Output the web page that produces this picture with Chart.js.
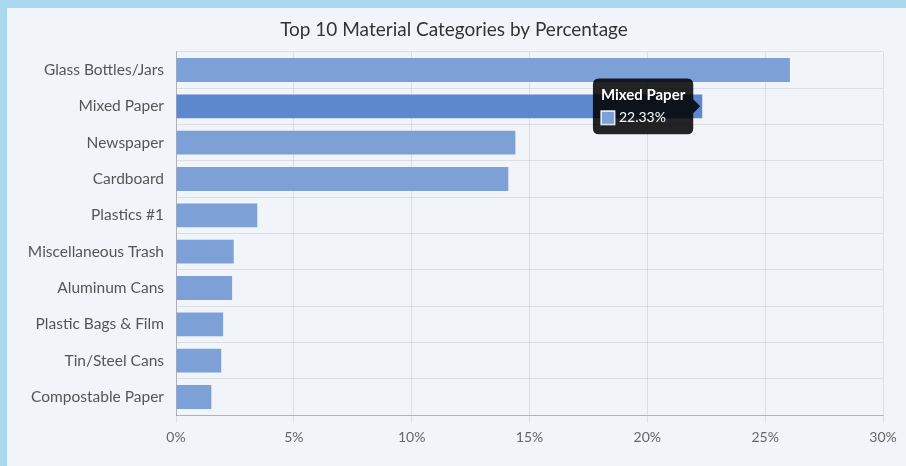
<!DOCTYPE html>
<html>
<head>
<meta charset="utf-8">
<script src="https://cdn.jsdelivr.net/npm/chart.js@4/dist/chart.umd.min.js"></script>
<style>
  html, body { margin: 0; padding: 0; width: 906px; height: 466px; overflow: hidden; background: #a9d7ee; }
  #panel { position: absolute; left: 7px; top: 8px; width: 899px; height: 458px; background: #f1f5fa; }
  #wrap { position: absolute; left: 0; top: 0; width: 906px; height: 466px; }
</style>
</head>
<body>
<div id="panel"></div>
<div id="wrap"><canvas id="chart" width="906" height="466"></canvas></div>
<script>
// Material categories and their share of the total (%)
const categories = [
  'Glass Bottles/Jars',
  'Mixed Paper',
  'Newspaper',
  'Cardboard',
  'Plastics #1',
  'Miscellaneous Trash',
  'Aluminum Cans',
  'Plastic Bags & Film',
  'Tin/Steel Cans',
  'Compostable Paper'
];
const percentages = [26.05, 22.33, 14.4, 14.1, 3.45, 2.45, 2.38, 2.0, 1.92, 1.5];
const xTicks = [0, 5, 10, 15, 20, 25, 30];

const FONT = 'Lato, "Open Sans", sans-serif';

const chart = new Chart(document.getElementById('chart'), {
  type: 'bar',
  data: {
    labels: categories,
    datasets: [{
      label: 'Percentage',
      data: percentages,
      backgroundColor: '#7da0d7',
      hoverBackgroundColor: '#5e88cd',
      borderWidth: 0,
      barPercentage: 0.82,
      categoryPercentage: 0.8
    }]
  },
  options: {
    indexAxis: 'y',
    responsive: false,
    animation: false,
    layout: { padding: { left: 25, right: 23, top: 18, bottom: 14 } },
    plugins: {
      legend: { display: false },
      title: {
        display: true,
        text: 'Top 10 Material Categories by Percentage',
        color: '#333',
        font: { family: FONT, size: 19, weight: 'normal' },
        padding: { top: 0, bottom: 11 }
      },
      tooltip: {
        backgroundColor: 'rgba(0,0,0,0.86)',
        titleFont: { family: FONT, size: 15, weight: 'bold' },
        bodyFont: { family: FONT, size: 14 },
        titleMarginBottom: 5,
        padding: 8,
        cornerRadius: 6,
        caretSize: 7,
        boxPadding: 2,
        callbacks: {
          label: (ctx) => ctx.formattedValue + '%',
          labelColor: () => ({ borderColor: '#dfe8f6', backgroundColor: '#7da0d7', borderWidth: 1 })
        }
      }
    },
    scales: {
      x: {
        min: 0,
        max: 30,
        afterBuildTicks: (scale) => { scale.ticks = xTicks.map(v => ({ value: v })); },
        ticks: {
          callback: (v) => v + '%',
          color: '#666',
          font: { family: FONT, size: 14 },
          padding: 6
        },
        grid: { color: 'rgba(0,0,0,0.09)', tickLength: 8 },
        border: { color: 'rgba(0,0,0,0.2)' }
      },
      y: {
        afterFit: (scale) => { scale.width = 151; },
        ticks: {
          color: '#555',
          font: { family: FONT, size: 15.5 },
          padding: 12
        },
        grid: { color: 'rgba(0,0,0,0.09)', drawTicks: false },
        border: { color: 'rgba(0,0,0,0.2)' }
      }
    }
  }
});

// Highlight "Mixed Paper" and show its tooltip
const active = [{ datasetIndex: 0, index: 1 }];
const bar = chart.getDatasetMeta(0).data[1];
chart.setActiveElements(active);
chart.tooltip.setActiveElements(active, { x: bar.x, y: bar.y });
chart.update();
</script>
</body>
</html>
